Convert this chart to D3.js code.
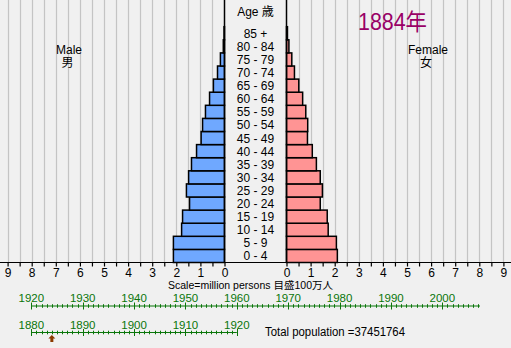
<!DOCTYPE html>
<html><head><meta charset="utf-8">
<script src="https://cdn.jsdelivr.net/npm/d3@7"></script>
<style>
html,body{margin:0;padding:0;background:#f0f0f0;}
svg{display:block;font-family:"Liberation Sans",Arial,"Noto Sans CJK JP",sans-serif;}
</style></head>
<body>
<svg id="c" width="511" height="348"></svg>
<script>
const ages = ["0 - 4","5 - 9","10 - 14","15 - 19","20 - 24","25 - 29","30 - 34","35 - 39","40 - 44","45 - 49","50 - 54","55 - 59","60 - 64","65 - 69","70 - 74","75 - 79","80 - 84","85 +"];
const male   = [2.12,2.12,1.78,1.74,1.45,1.58,1.49,1.37,1.16,0.97,0.91,0.79,0.62,0.46,0.29,0.17,0.05,0.02];
const female = [2.11,2.07,1.73,1.69,1.40,1.49,1.40,1.24,1.07,0.87,0.88,0.80,0.67,0.51,0.33,0.22,0.10,0.04];
const scaleTicks = [0,1,2,3,4,5,6,7,8,9];
const gridTicks = d3.range(1,19).map(d=>d/2);
const yearLabels1 = [1920,1930,1940,1950,1960,1970,1980,1990,2000];
const yearLabels2 = [1880,1890,1900,1910,1920];
const currentYear = 1884;
const title = "1884年";
const totalText = "Total population =37451764";

const svg = d3.select("#c");
const W = 511;
const xL = d3.scaleLinear().domain([0,9]).range([224.5, 7.6]);
const xR = d3.scaleLinear().domain([0,9]).range([286.5, 503.4]);
const y = d3.scaleBand().domain(ages).range([262.5, 26.7]).padding(0);
const axisY = 262.5;

// gridlines
const g = svg.append("g");
g.selectAll("line.gl").data(gridTicks).enter().append("line")
  .attr("x1",d=>Math.round(xL(d))+0.5).attr("x2",d=>Math.round(xL(d))+0.5)
  .attr("y1",0).attr("y2",axisY).attr("stroke","#c4c4c4").attr("stroke-width",1.2);
g.selectAll("line.gr").data(gridTicks).enter().append("line")
  .attr("x1",d=>Math.round(xR(d))+0.5).attr("x2",d=>Math.round(xR(d))+0.5)
  .attr("y1",0).attr("y2",axisY).attr("stroke","#c4c4c4").attr("stroke-width",1.2);

// bars
svg.append("g").selectAll("rect").data(ages).enter().append("rect")
  .attr("x",(a,i)=>xL(male[i])).attr("width",(a,i)=>xL(0)-xL(male[i]))
  .attr("y",a=>y(a)).attr("height",y.bandwidth())
  .attr("fill","#6fa8ff").attr("stroke","#000").attr("stroke-width",1.5);
svg.append("g").selectAll("rect").data(ages).enter().append("rect")
  .attr("x",xR(0)).attr("width",(a,i)=>xR(female[i])-xR(0))
  .attr("y",a=>y(a)).attr("height",y.bandwidth())
  .attr("fill","#ff9494").attr("stroke","#000").attr("stroke-width",1.5);

// center lines
[xL(0), xR(0)].forEach(x=>{
  svg.append("line").attr("x1",x).attr("x2",x).attr("y1",0).attr("y2",axisY)
    .attr("stroke","#000").attr("stroke-width",1.5);
});

// axis line
svg.append("line").attr("x1",0).attr("x2",W).attr("y1",axisY).attr("y2",axisY)
  .attr("stroke","#000").attr("stroke-width",1.2);

// axes ticks + labels
function drawAxis(scale){
  const ax = svg.append("g").attr("transform",`translate(0,${axisY})`)
    .call(d3.axisBottom(scale).tickValues([0].concat(gridTicks)).tickSize(4).tickFormat(d=>Number.isInteger(d)?d:""));
  ax.select(".domain").remove();
  ax.selectAll(".tick line").attr("stroke","#000").attr("stroke-width",1.2);
  ax.selectAll(".tick text").attr("font-size",12).attr("fill","#000").attr("y",6).attr("dy","0.71em")
    .attr("font-family",'"Liberation Sans",Arial,sans-serif');
}
drawAxis(xL); drawAxis(xR);

// age labels
const cx = (xL(0)+xR(0))/2;
svg.append("g").selectAll("text").data(ages).enter().append("text")
  .attr("x",cx).attr("y",a=>y(a)+y.bandwidth()/2+4.5).attr("text-anchor","middle")
  .attr("font-size",12).attr("fill","#000").text(a=>a);
svg.append("text").attr("x",cx).attr("y",15.5).attr("text-anchor","middle").attr("font-size",12).text("Age 歳");

// Male / Female
svg.append("text").attr("x",69).attr("y",54).attr("text-anchor","middle").attr("font-size",12).text("Male");
svg.append("text").attr("x",67.5).attr("y",67).attr("text-anchor","middle").attr("font-size",12).text("男");
svg.append("text").attr("x",428).attr("y",54).attr("text-anchor","middle").attr("font-size",12).text("Female");
svg.append("text").attr("x",426).attr("y",67).attr("text-anchor","middle").attr("font-size",12).text("女");

// title
svg.append("text").attr("x",358).attr("y",29.5).attr("font-size",23).attr("fill","#990066")
  .attr("textLength",69).attr("lengthAdjust","spacingAndGlyphs").text(title);

// scale note
svg.append("text").attr("x",250.5).attr("y",289).attr("text-anchor","middle").attr("font-size",10)
  .attr("textLength",165).attr("lengthAdjust","spacingAndGlyphs").text("Scale=million persons 目盛100万人");

// timelines
const green = "#0a760a";
function timeline(y0, start, end, labels, lineEnd){
  const s = d3.scaleLinear().domain([start,start+80]).range([31.3, 442.3]);
  const grp = svg.append("g");
  grp.append("line").attr("x1",s(start)).attr("x2",lineEnd!==undefined?lineEnd:s(end)).attr("y1",y0).attr("y2",y0)
    .attr("stroke",green).attr("stroke-width",1.2);
  const yrs = d3.range(start,end+1);
  grp.selectAll("line.t").data(yrs).enter().append("line")
    .attr("x1",d=>Math.round(s(d))+0.5).attr("x2",d=>Math.round(s(d))+0.5)
    .attr("y1",d=>y0-(d%10===0?3.5:1.8)).attr("y2",d=>y0+(d%10===0?3.5:1.8))
    .attr("stroke",green).attr("stroke-width",1);
  grp.selectAll("text").data(labels).enter().append("text")
    .attr("x",d=>s(d)).attr("y",y0-4).attr("text-anchor","middle").attr("font-size",11.5)
    .attr("fill",green).attr("font-family",'"Liberation Sans",Arial,sans-serif').text(d=>d);
  return s;
}
timeline(306, 1920, 2007, yearLabels1, 480);
const s2 = timeline(332.5, 1880, 1920, yearLabels2);

// arrow for current year
const ax0 = s2(currentYear);
svg.append("path").attr("d",
  `M${ax0},335 L${ax0+3.5},338.5 L${ax0+1.5},338.5 L${ax0+1.5},342 L${ax0-1.5},342 L${ax0-1.5},338.5 L${ax0-3.5},338.5 Z`)
  .attr("fill","#8b3a00");

// total population
svg.append("text").attr("x",265).attr("y",336).attr("font-size",12)
  .attr("textLength",140).attr("lengthAdjust","spacingAndGlyphs").text(totalText);
</script>
</body></html>
